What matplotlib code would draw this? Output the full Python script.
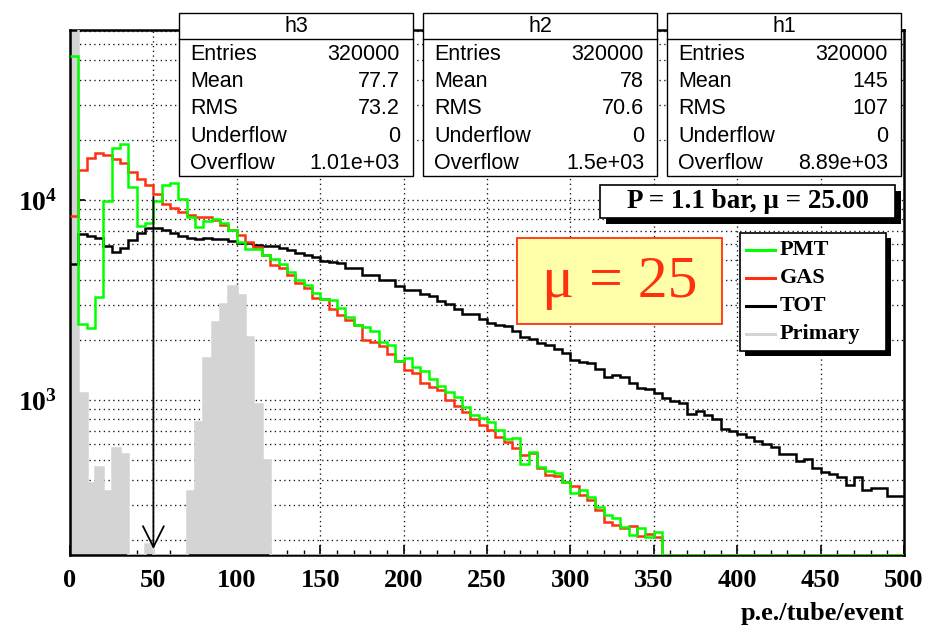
import numpy as np
import matplotlib
matplotlib.use("Agg")
import matplotlib.pyplot as plt
from matplotlib.patches import Rectangle
from matplotlib.ticker import MultipleLocator, LogLocator, FixedLocator, FixedFormatter, NullFormatter

# ---------------- data ----------------
x_min, x_max, n_bins = 0, 500, 100
y_lo, y_hi = 168, 70800

pmt = [52500, 2390, 2283, 3262, 9920, 18140, 18980, 11660, 7440, 7700,
       9885, 11890, 12120, 10115, 8190, 7300, 7880, 8010, 7650, 7050,
       6150, 5670, 5670, 5310, 5050, 4770, 4380, 3980, 3760, 3440,
       3190, 3160, 2870, 2610, 2370, 2330, 2210, 1958, 1884, 1573,
       1616, 1456, 1396, 1268, 1175, 1092, 1031, 926, 841, 809,
       779, 708, 640, 643, 477, 552, 464, 443, 430, 391,
       344, 355, 326, 291, 266, 256, 233, 211, 228, 206,
       220, 0, 0, 0, 0, 0, 0, 0, 0, 0,
       0, 0, 0, 0, 0, 0, 0, 0, 0, 0,
       0, 0, 0, 0, 0, 0, 0, 0, 0, 0]

gas = [8300, 14125, 16160, 17120, 16790, 15980, 15260, 13850, 12690, 11890,
       10715, 9550, 9090, 8740, 8410, 8190, 8190, 7940, 7500, 7050,
       6680, 6190, 5840, 5310, 4730, 4550, 4220, 3830, 3620, 3225,
       3190, 2840, 2660, 2510, 2370, 2000, 1960, 1862, 1698, 1573,
       1413, 1359, 1211, 1166, 1122, 1000, 933, 874, 800, 750,
       708, 656, 619, 573, 531, 545, 455, 422, 417, 391,
       372, 337, 316, 282, 246, 237, 228, 235, 209, 215,
       207, 0, 0, 0, 0, 0, 0, 0, 0, 0,
       0, 0, 0, 0, 0, 0, 0, 0, 0, 0,
       0, 0, 0, 0, 0, 0, 0, 0, 0, 0]

tot = [4790, 6760, 6610, 6430, 5910, 5480, 5730, 6310, 6810, 7220,
       7270, 7080, 6860, 6610, 6430, 6360, 6430, 6360, 6360, 6240,
       6070, 6100, 5990, 5910, 5910, 5780, 5620, 5450, 5310, 5170,
       4950, 4920, 4830, 4550, 4550, 4220, 4220, 3980, 3980, 3715,
       3548, 3548, 3388, 3311, 3133, 3035, 2838, 2679, 2679, 2528,
       2432, 2380, 2340, 2210, 2070, 2010, 1930, 1880, 1810, 1710,
       1585, 1550, 1530, 1425, 1310, 1330, 1300, 1220, 1145, 1137,
       1080, 1020, 992, 962, 850, 885, 840, 800, 720, 700,
       680, 650, 625, 600, 580, 536, 536, 495, 505, 460,
       435, 426, 410, 376, 412, 355, 364, 364, 330, 330]

primary = [150000, 1080, 385, 462, 351, 575, 537, 0, 0, 190,
           0, 0, 0, 0, 352, 774, 1628, 2464, 3010, 3715,
           3350, 2073, 955, 501, 0, 0, 0, 0, 0, 0,
           0, 0, 0, 0, 0, 0, 0, 0, 0, 0,
           0, 0, 0, 0, 0, 0, 0, 0, 0, 0,
           0, 0, 0, 0, 0, 0, 0, 0, 0, 0,
           0, 0, 0, 0, 0, 0, 0, 0, 0, 0,
           0, 0, 0, 0, 0, 0, 0, 0, 0, 0,
           0, 0, 0, 0, 0, 0, 0, 0, 0, 0,
           0, 0, 0, 0, 0, 0, 0, 0, 0, 0]

series_names = ["PMT", "GAS", "TOT", "Primary"]
series_colors = ["#00ff00", "#ff3010", "#000000", "#d4d4d4"]

x_ticks = [0, 50, 100, 150, 200, 250, 300, 350, 400, 450, 500]
y_ticks = [1e3, 1e4]
y_tick_labels = [r"$\mathbf{10^{3}}$", r"$\mathbf{10^{4}}$"]
x_label = "p.e./tube/event"

cut_x, cut_top, cut_bottom = 50, 10400, 180

stat_titles = ["h3", "h2", "h1"]
stat_labels = ["Entries", "Mean", "RMS", "Underflow", "Overflow"]
stat_values = [["320000", "77.7", "73.2", "0", "1.01e+03"],
               ["320000", "78", "70.6", "0", "1.5e+03"],
               ["320000", "145", "107", "0", "8.89e+03"]]
info_text = "P = 1.1 bar, \u03bc = 25.00"
mu_text = "\u03bc = 25"

# ---------------- style ----------------
plt.rcParams["font.family"] = ["Liberation Serif", "DejaVu Serif"]
plt.rcParams["mathtext.fontset"] = "custom"
plt.rcParams["mathtext.rm"] = "Liberation Serif"
plt.rcParams["mathtext.bf"] = "Liberation Serif:bold"
plt.rcParams["mathtext.it"] = "Liberation Serif:italic"

W, H, DPI = 926, 627, 100
fig = plt.figure(figsize=(W / DPI, H / DPI), dpi=DPI)
fig.patch.set_facecolor("white")

L, R, T, B = 70, 904, 30, 555
ax = fig.add_axes([L / W, 1 - B / H, (R - L) / W, (B - T) / H])
ax.set_yscale("log")
ax.set_xlim(x_min, x_max)
ax.set_ylim(y_lo, y_hi)

edges = np.linspace(x_min, x_max, n_bins + 1)

def draw_vals(v):
    return np.clip(np.asarray(v, dtype=float), y_lo, None)

HLW = 1.8
# primary: filled light grey
ax.stairs(draw_vals(primary), edges, fill=True, baseline=1.0,
          color=series_colors[3], lw=0, zorder=2.6)
ax.stairs(draw_vals(primary), edges, baseline=None, color=series_colors[3],
          lw=HLW, zorder=3.6)
ax.stairs(draw_vals(tot), edges, baseline=None, color=series_colors[2], lw=HLW, zorder=4)
ax.stairs(draw_vals(gas), edges, baseline=None, color=series_colors[1], lw=HLW, zorder=4.1)
ax.stairs(draw_vals(pmt), edges, baseline=None, color=series_colors[0], lw=HLW, zorder=4.2)

# cut arrow
ax.annotate("", xy=(cut_x, cut_bottom), xytext=(cut_x, cut_top),
            arrowprops=dict(arrowstyle="->,head_length=1.0,head_width=0.5",
                            color="black", lw=1.3, mutation_scale=15,
                            shrinkA=0, shrinkB=0), zorder=5)

for s in ax.spines.values():
    s.set_linewidth(1.8)
    s.set_zorder(3.5)

ax.xaxis.set_major_locator(FixedLocator(x_ticks))
ax.xaxis.set_minor_locator(MultipleLocator(10))
ax.set_xticklabels([str(t) for t in x_ticks], fontsize=19, fontweight="bold")
ax.yaxis.set_major_locator(FixedLocator(y_ticks))
ax.yaxis.set_major_formatter(FixedFormatter(y_tick_labels))
ax.yaxis.set_minor_locator(LogLocator(base=10, subs=np.arange(2, 10)))
ax.yaxis.set_minor_formatter(NullFormatter())
for lab in ax.get_yticklabels():
    lab.set_fontsize(20)

ax.tick_params(axis="x", which="major", direction="in", length=7, width=1.2, pad=10)
ax.tick_params(axis="x", which="minor", direction="in", length=3.5, width=1.0)
ax.tick_params(axis="y", which="major", direction="in", length=11, width=1.2, pad=9)
ax.tick_params(axis="y", which="minor", length=0)

grid_kw = dict(ls=(0, (1, 2.6)), color="#111111", lw=0.95)
ax.grid(True, axis="x", which="major", **grid_kw)
ax.grid(True, axis="y", which="both", **grid_kw)

ax.set_xlabel(x_label, loc="right", fontsize=19, fontweight="bold", labelpad=7)

# ---------------- overlay (pixel coordinates) ----------------
ov = fig.add_axes([0, 0, 1, 1])
ov.set_xlim(0, W)
ov.set_ylim(H, 0)
ov.set_axis_off()
ov.patch.set_visible(False)
ov.set_zorder(10)

def box(x0, y0, x1, y1, fc="white", ec="black", lw=1.0, shadow=0):
    if shadow:
        ov.add_patch(Rectangle((x0 + shadow, y0 + shadow), x1 - x0, y1 - y0,
                               fc="black", ec="none"))
    ov.add_patch(Rectangle((x0, y0), x1 - x0, y1 - y0, fc=fc, ec=ec, lw=lw))

sans = ["Liberation Sans", "DejaVu Sans"]
box_lefts = [179, 423, 667]
box_w = 234
row_y = [55, 81.7, 108.3, 136, 163.3]
for bi, x0 in enumerate(box_lefts):
    x1 = x0 + box_w
    box(x0, 12.7, x1, 176, lw=1.0)
    ov.plot([x0, x1], [39, 39], color="black", lw=1.0)
    ov.text((x0 + x1) / 2, 26, stat_titles[bi], ha="center", va="center",
            fontsize=15.5, family=sans)
    for ri, lab in enumerate(stat_labels):
        ov.text(x0 + 11, row_y[ri], lab, ha="left", va="center",
                fontsize=15.5, family=sans)
        ov.text(x1 - 13, row_y[ri], stat_values[bi][ri], ha="right", va="center",
                fontsize=15.5, family=sans)

# P / mu info box
box(600, 185, 895, 218, lw=1.2, shadow=6)
ov.text(747.5, 202, info_text, ha="center", va="center", fontsize=19.5,
        fontweight="bold")

# mu = 25 highlight box
box(517, 238, 722, 324, fc="#ffffaa", ec="#ff3010", lw=1.3)
ov.text(620, 283, mu_text, ha="center", va="center", fontsize=43,
        color="#ff3010")

# legend
box(740, 233, 886, 351, lw=1.2, shadow=5)
leg_y = [250, 278, 306, 334]
for name, col, yy in zip(series_names, series_colors, leg_y):
    ov.plot([746, 775], [yy, yy], color=col, lw=2.2)
    ov.text(780, yy, name, ha="left", va="center", fontsize=16, fontweight="bold")

fig.savefig("out.png", dpi=DPI)
